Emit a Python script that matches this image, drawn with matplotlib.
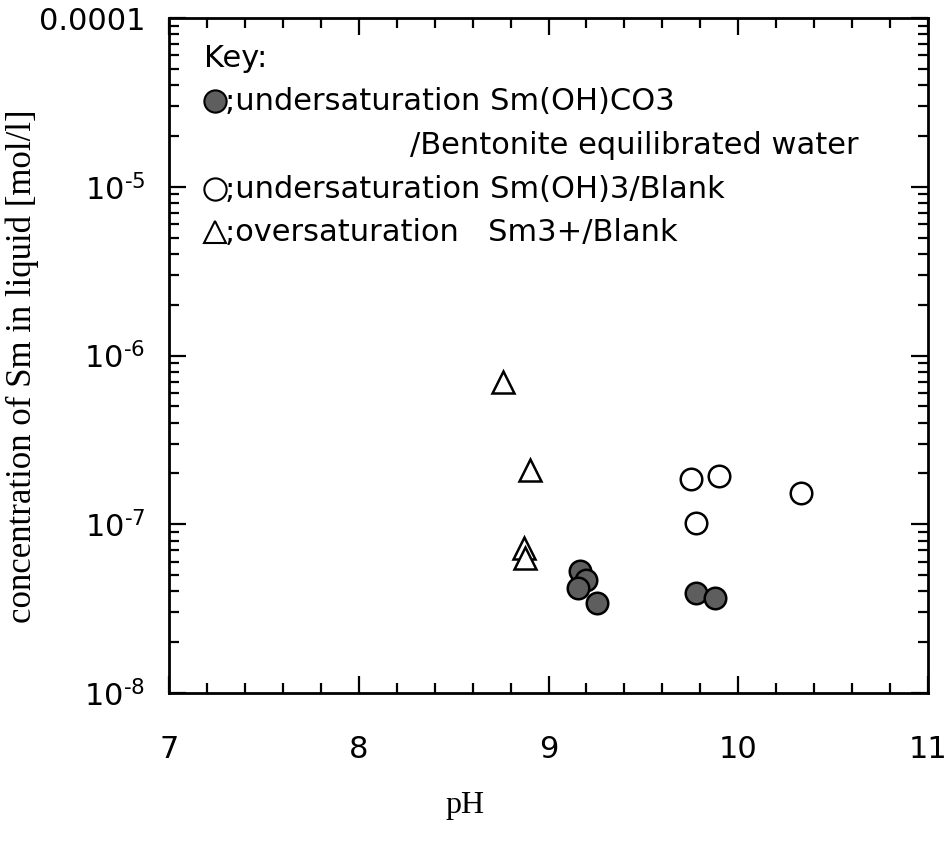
import matplotlib
matplotlib.use("Agg")
import matplotlib.pyplot as plt
from matplotlib.ticker import FixedLocator, FuncFormatter, LogLocator, MultipleLocator

# Data (pH, concentration mol/l)
tri_ph = [8.76, 8.90, 8.87, 8.875]
tri_conc = [7.0e-7, 2.1e-7, 7.2e-8, 6.3e-8]

open_ph = [9.75, 9.90, 9.775, 10.33]
open_conc = [1.86e-7, 1.92e-7, 1.02e-7, 1.53e-7]

fill_ph = [9.165, 9.195, 9.155, 9.255, 9.775, 9.88]
fill_conc = [5.3e-8, 4.7e-8, 4.2e-8, 3.4e-8, 3.9e-8, 3.65e-8]

y_ticks = [1e-8, 1e-7, 1e-6, 1e-5, 1e-4]
y_ticklabels = ["$\\mathregular{10^{\u20108}}$", "$\\mathregular{10^{\u20107}}$",
                "$\\mathregular{10^{\u20106}}$", "$\\mathregular{10^{\u20105}}$", "0.0001"]
x_ticks = [7, 8, 9, 10, 11]

key_title = "Key:"
key_lines = [";undersaturation Sm(OH)CO3", "/Bentonite equilibrated water",
             ";undersaturation Sm(OH)3/Blank", ";oversaturation   Sm3+/Blank"]

fig = plt.figure(figsize=(9.48, 8.58), dpi=100)
L, R, T, B = 169, 928, 18, 693
ax = fig.add_axes([L/948, 1-B/858, (R-L)/948, (B-T)/858])

ax.set_yscale("log")
ax.set_xlim(7, 11)
ax.set_ylim(1e-8, 1e-4)

ms = 15.5
ax.plot(tri_ph, tri_conc, linestyle="none", marker="^", ms=ms + 1, mfc="white", mec="black", mew=1.8)
ax.plot(open_ph, open_conc, linestyle="none", marker="o", ms=ms, mfc="white", mec="black", mew=1.8)
ax.plot(fill_ph, fill_conc, linestyle="none", marker="o", ms=ms, mfc="#5e5e5e", mec="black", mew=1.8)

ax.xaxis.set_major_locator(FixedLocator(x_ticks))
ax.xaxis.set_minor_locator(MultipleLocator(0.2))
ax.yaxis.set_major_locator(FixedLocator(y_ticks))
ax.yaxis.set_minor_locator(LogLocator(base=10, subs=range(2, 10)))
ax.yaxis.set_major_formatter(FuncFormatter(lambda v, p: y_ticklabels[y_ticks.index(min(y_ticks, key=lambda t: abs(t - v)))]))

ax.tick_params(which="both", direction="in", top=True, right=True, width=1.6)
ax.tick_params(which="major", length=12)
ax.tick_params(which="minor", length=7)
ax.tick_params(axis="x", which="major", pad=30, labelsize=22)
ax.tick_params(axis="y", which="major", pad=17, labelsize=22)
ax.tick_params(axis="y", which="minor", labelleft=False)
for s in ax.spines.values():
    s.set_linewidth(2.0)

ax.set_xlabel("pH", family="Liberation Serif", fontsize=23)
ax.xaxis.set_label_coords((465 - L) / (R - L), (B - 805) / (B - T))
ax.xaxis.label.set_va("center")
ax.set_ylabel("concentration of Sm in liquid [mol/l]", family="Liberation Serif", fontsize=25)
ax.yaxis.set_label_coords((22 - L) / (R - L), (B - 366) / (B - T))
ax.yaxis.label.set_va("center")

tfs = 22
tr = ax.transAxes
def ax_x(px):
    return (px - L) / (R - L)
def ax_y(py):
    return (B - py) / (B - T)

ax.text(ax_x(204), ax_y(58), key_title, transform=tr, fontsize=tfs, va="center", ha="left")
ax.plot([ax_x(215)], [ax_y(101)], transform=tr, marker="o", ms=16, mfc="#5e5e5e", mec="black", mew=1.5, clip_on=False)
ax.text(ax_x(225), ax_y(101), key_lines[0], transform=tr, fontsize=tfs, va="center", ha="left")
ax.text(ax_x(410), ax_y(145), key_lines[1], transform=tr, fontsize=tfs, va="center", ha="left")
ax.plot([ax_x(215)], [ax_y(189)], transform=tr, marker="o", ms=16, mfc="white", mec="black", mew=1.5, clip_on=False)
ax.text(ax_x(225), ax_y(189), key_lines[2], transform=tr, fontsize=tfs, va="center", ha="left")
ax.plot([ax_x(215)], [ax_y(232)], transform=tr, marker="^", ms=16, mfc="white", mec="black", mew=1.5, clip_on=False)
ax.text(ax_x(225), ax_y(232), key_lines[3], transform=tr, fontsize=tfs, va="center", ha="left")

fig.savefig("out.png", dpi=100)
